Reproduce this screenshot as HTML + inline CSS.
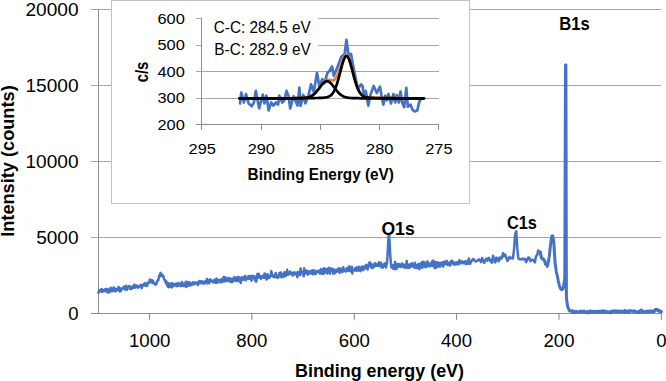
<!DOCTYPE html>
<html><head><meta charset="utf-8"><title>XPS</title>
<style>
html,body{margin:0;padding:0;background:#fff;}
body{width:666px;height:381px;overflow:hidden;font-family:"Liberation Sans",sans-serif;}
svg{display:block}
text{font-family:"Liberation Sans",sans-serif;fill:#000}
.b{font-weight:bold}
</style></head><body>
<svg width="666" height="381" viewBox="0 0 666 381">
<rect width="666" height="381" fill="#fff"/>
<!-- main gridlines -->
<g stroke="#a6a6a6" stroke-width="1" fill="none" shape-rendering="crispEdges">
<line x1="91" y1="9.5" x2="661" y2="9.5"/>
<line x1="91" y1="85.5" x2="661" y2="85.5"/>
<line x1="91" y1="161.5" x2="661" y2="161.5"/>
<line x1="91" y1="237.5" x2="661" y2="237.5"/>
</g>
<!-- main axes -->
<g stroke="#8e8e8e" stroke-width="1" fill="none" shape-rendering="crispEdges">
<line x1="98.5" y1="9" x2="98.5" y2="313.5"/>
<line x1="91" y1="313.5" x2="661.5" y2="313.5"/>
</g>
<g stroke="#8e8e8e" stroke-width="1.1" fill="none">
<line x1="149.5" y1="313" x2="149.5" y2="319.8"/>
<line x1="251.8" y1="313" x2="251.8" y2="319.8"/>
<line x1="354.3" y1="313" x2="354.3" y2="319.8"/>
<line x1="456.5" y1="313" x2="456.5" y2="319.8"/>
<line x1="559.0" y1="313" x2="559.0" y2="319.8"/>
<line x1="661.4" y1="313" x2="661.4" y2="319.8"/>
</g>
<!-- main data -->
<path d="M98.5,292.8 L99.0,290.5 L99.4,291.0 L99.9,291.4 L100.3,290.1 L100.8,290.9 L101.2,290.8 L101.7,289.0 L102.1,291.9 L102.6,291.4 L103.0,290.1 L103.5,290.5 L103.9,291.2 L104.4,290.4 L104.8,290.4 L105.3,289.1 L105.7,291.2 L106.2,290.7 L106.6,290.8 L107.1,288.9 L107.5,292.3 L108.0,290.6 L108.4,290.0 L108.9,292.6 L109.3,290.3 L109.8,288.8 L110.2,289.9 L110.7,287.8 L111.1,291.4 L111.6,289.8 L112.0,289.3 L112.5,291.2 L112.9,288.2 L113.4,290.5 L113.8,287.6 L114.3,289.1 L114.7,288.4 L115.2,291.3 L115.6,291.5 L116.1,289.2 L116.5,290.4 L117.0,289.2 L117.4,289.9 L117.9,288.4 L118.3,287.3 L118.8,287.1 L119.2,289.5 L119.7,291.5 L120.1,289.2 L120.6,288.3 L121.0,290.9 L121.5,289.0 L121.9,288.7 L122.4,288.8 L122.8,288.3 L123.3,288.1 L123.7,286.7 L124.2,288.8 L124.6,288.1 L125.1,289.5 L125.5,287.7 L126.0,285.9 L126.4,287.8 L126.9,289.8 L127.3,287.4 L127.8,286.7 L128.2,286.3 L128.7,286.4 L129.1,287.2 L129.6,286.1 L130.0,289.1 L130.5,287.0 L130.9,287.3 L131.4,288.8 L131.8,288.8 L132.3,286.8 L132.7,287.3 L133.2,287.7 L133.6,286.6 L134.1,284.7 L134.5,287.4 L135.0,287.6 L135.4,287.0 L135.9,285.4 L136.3,286.1 L136.8,285.6 L137.2,285.9 L137.7,287.6 L138.1,287.8 L138.6,286.8 L139.0,286.6 L139.5,286.6 L139.9,285.8 L140.4,285.6 L140.8,284.8 L141.3,285.5 L141.7,288.2 L142.2,286.5 L142.6,285.0 L143.1,284.8 L143.5,284.2 L144.0,285.6 L144.4,285.5 L144.9,283.2 L145.3,285.3 L145.8,283.9 L146.2,286.0 L146.7,284.2 L147.1,285.7 L147.6,282.7 L148.0,282.5 L148.5,282.8 L148.9,283.2 L149.4,282.1 L149.8,279.6 L150.3,281.0 L150.7,280.7 L151.2,280.1 L151.6,280.0 L152.1,283.1 L152.5,280.9 L153.0,280.8 L153.4,283.0 L153.9,282.9 L154.3,283.0 L154.8,284.3 L155.2,284.0 L155.7,283.9 L156.1,284.4 L156.6,283.2 L157.0,281.5 L157.5,281.1 L157.9,280.1 L158.4,280.0 L158.8,277.4 L159.3,275.4 L159.7,276.8 L160.2,274.3 L160.6,272.9 L161.1,275.5 L161.5,274.1 L162.0,275.9 L162.4,275.2 L162.9,275.3 L163.3,276.1 L163.8,278.1 L164.2,279.5 L164.7,279.8 L165.1,281.4 L165.6,280.7 L166.0,283.4 L166.5,281.7 L166.9,284.1 L167.4,285.6 L167.8,286.3 L168.3,287.3 L168.7,283.3 L169.2,286.2 L169.6,286.8 L170.1,286.5 L170.5,284.1 L171.0,285.8 L171.4,287.6 L171.9,283.3 L172.3,285.8 L172.8,286.5 L173.2,284.2 L173.7,285.8 L174.1,283.7 L174.6,284.0 L175.0,283.9 L175.5,285.2 L175.9,284.8 L176.4,286.1 L176.8,283.6 L177.3,284.6 L177.7,286.0 L178.2,285.5 L178.6,283.0 L179.1,285.5 L179.5,284.0 L180.0,285.1 L180.4,285.0 L180.9,286.2 L181.3,284.7 L181.8,282.1 L182.2,282.8 L182.7,285.5 L183.1,284.2 L183.6,286.0 L184.0,284.8 L184.5,283.5 L184.9,285.9 L185.4,283.4 L185.8,281.7 L186.3,287.1 L186.7,281.9 L187.2,285.2 L187.6,285.6 L188.1,284.6 L188.5,282.1 L189.0,285.7 L189.4,282.4 L189.9,282.5 L190.3,283.8 L190.8,285.2 L191.2,284.5 L191.7,285.0 L192.1,283.3 L192.6,283.6 L193.0,282.2 L193.5,283.2 L193.9,284.3 L194.4,283.0 L194.8,284.0 L195.3,282.5 L195.7,282.4 L196.2,283.1 L196.6,282.7 L197.1,283.7 L197.5,283.0 L198.0,285.0 L198.4,282.3 L198.9,282.2 L199.3,281.0 L199.8,282.4 L200.2,283.2 L200.7,281.2 L201.1,282.1 L201.6,283.1 L202.0,282.0 L202.5,281.4 L202.9,283.4 L203.4,282.1 L203.8,282.5 L204.3,283.5 L204.7,283.5 L205.2,281.4 L205.6,281.1 L206.1,282.2 L206.5,281.6 L207.0,279.1 L207.4,283.4 L207.9,281.6 L208.3,282.6 L208.8,279.9 L209.2,283.3 L209.7,280.6 L210.1,281.3 L210.6,279.4 L211.0,281.1 L211.5,281.0 L211.9,281.0 L212.4,281.8 L212.8,281.3 L213.3,282.5 L213.7,280.5 L214.2,279.7 L214.6,281.0 L215.1,281.9 L215.5,282.7 L216.0,282.1 L216.4,278.4 L216.9,281.4 L217.3,282.9 L217.8,280.9 L218.2,280.0 L218.7,281.1 L219.1,279.9 L219.6,281.5 L220.0,280.5 L220.5,282.5 L220.9,281.2 L221.4,279.4 L221.8,281.3 L222.3,281.7 L222.7,279.5 L223.2,279.7 L223.6,277.0 L224.1,281.5 L224.5,279.3 L225.0,277.1 L225.4,277.6 L225.9,279.7 L226.3,281.1 L226.8,279.9 L227.2,280.6 L227.7,278.3 L228.1,277.9 L228.6,281.1 L229.0,280.5 L229.5,279.7 L229.9,281.6 L230.4,278.3 L230.8,279.0 L231.3,281.1 L231.7,282.2 L232.2,279.5 L232.6,282.0 L233.1,278.6 L233.5,279.9 L234.0,279.1 L234.4,277.0 L234.9,279.7 L235.3,280.7 L235.8,279.0 L236.2,279.1 L236.7,281.2 L237.1,277.3 L237.6,276.9 L238.0,278.1 L238.5,277.2 L238.9,281.0 L239.4,279.4 L239.8,277.6 L240.3,278.0 L240.7,283.1 L241.2,277.9 L241.6,277.6 L242.1,279.2 L242.5,279.7 L243.0,279.0 L243.4,277.3 L243.9,276.8 L244.3,279.5 L244.8,278.4 L245.2,276.0 L245.7,280.2 L246.1,279.6 L246.6,278.0 L247.0,277.9 L247.5,278.7 L247.9,277.2 L248.4,276.2 L248.8,278.7 L249.3,276.0 L249.7,278.7 L250.2,275.9 L250.6,277.9 L251.1,277.8 L251.5,280.7 L252.0,276.3 L252.4,275.7 L252.9,276.9 L253.3,276.1 L253.8,276.9 L254.2,278.4 L254.7,278.9 L255.1,280.3 L255.6,276.5 L256.0,281.7 L256.5,280.7 L256.9,277.2 L257.4,274.0 L257.8,277.3 L258.3,277.6 L258.7,273.8 L259.2,277.5 L259.6,277.0 L260.1,276.1 L260.5,278.2 L261.0,278.8 L261.4,276.4 L261.9,277.5 L262.3,276.0 L262.8,275.8 L263.2,277.1 L263.7,277.8 L264.1,276.0 L264.6,273.4 L265.0,277.7 L265.5,274.2 L265.9,276.9 L266.4,279.5 L266.8,276.6 L267.3,274.7 L267.7,274.2 L268.2,278.3 L268.6,276.4 L269.1,277.3 L269.5,277.8 L270.0,276.2 L270.4,275.8 L270.9,274.7 L271.3,271.2 L271.8,273.7 L272.2,276.0 L272.7,275.8 L273.1,276.6 L273.6,275.7 L274.0,276.2 L274.5,277.1 L274.9,274.4 L275.4,275.3 L275.8,273.1 L276.3,277.2 L276.7,275.7 L277.2,276.3 L277.6,278.0 L278.1,277.2 L278.5,275.3 L279.0,276.6 L279.4,272.9 L279.9,275.9 L280.3,275.4 L280.8,272.5 L281.2,277.2 L281.7,273.9 L282.1,276.1 L282.6,274.2 L283.0,276.5 L283.5,276.9 L283.9,273.4 L284.4,272.2 L284.8,274.4 L285.3,276.0 L285.7,273.9 L286.2,273.4 L286.6,275.2 L287.1,269.8 L287.5,273.2 L288.0,272.0 L288.4,274.7 L288.9,272.9 L289.3,272.2 L289.8,273.4 L290.2,271.5 L290.7,273.9 L291.1,272.8 L291.6,273.3 L292.0,272.7 L292.5,275.4 L292.9,273.6 L293.4,274.6 L293.8,274.5 L294.3,272.3 L294.7,274.6 L295.2,274.2 L295.6,274.1 L296.1,272.9 L296.5,272.8 L297.0,274.8 L297.4,277.2 L297.9,272.0 L298.3,274.3 L298.8,272.8 L299.2,274.7 L299.7,274.1 L300.1,275.1 L300.6,268.5 L301.0,272.2 L301.5,271.5 L301.9,273.0 L302.4,271.9 L302.8,272.0 L303.3,274.2 L303.7,276.3 L304.2,268.2 L304.6,272.4 L305.1,273.4 L305.5,272.9 L306.0,272.3 L306.4,270.5 L306.9,271.2 L307.3,274.0 L307.8,274.5 L308.2,272.8 L308.7,271.2 L309.1,272.8 L309.6,272.2 L310.0,273.5 L310.5,272.7 L310.9,271.4 L311.4,272.8 L311.8,270.4 L312.3,273.8 L312.7,274.3 L313.2,270.3 L313.6,273.0 L314.1,270.5 L314.5,274.0 L315.0,273.7 L315.4,271.7 L315.9,273.8 L316.3,271.3 L316.8,270.9 L317.2,271.0 L317.7,271.7 L318.1,271.4 L318.6,272.1 L319.0,270.8 L319.5,273.1 L319.9,273.5 L320.4,270.9 L320.8,269.3 L321.3,272.9 L321.7,273.6 L322.2,271.3 L322.6,269.4 L323.1,272.0 L323.5,274.1 L324.0,268.3 L324.4,272.2 L324.9,270.9 L325.3,269.9 L325.8,272.2 L326.2,269.1 L326.7,271.8 L327.1,273.5 L327.6,271.5 L328.0,269.7 L328.5,268.1 L328.9,268.9 L329.4,267.9 L329.8,273.7 L330.3,270.6 L330.7,269.2 L331.2,268.7 L331.6,269.1 L332.1,270.3 L332.5,268.7 L333.0,273.7 L333.4,269.6 L333.9,269.5 L334.3,271.3 L334.8,273.3 L335.2,273.0 L335.7,269.9 L336.1,271.2 L336.6,270.9 L337.0,271.6 L337.5,271.1 L337.9,269.0 L338.4,268.5 L338.8,270.9 L339.3,268.5 L339.7,272.9 L340.2,270.6 L340.6,268.7 L341.1,269.9 L341.5,269.6 L342.0,270.2 L342.4,272.0 L342.9,267.9 L343.3,267.2 L343.8,270.9 L344.2,270.0 L344.7,270.6 L345.1,271.0 L345.6,269.9 L346.0,271.5 L346.5,268.5 L346.9,270.1 L347.4,268.5 L347.8,267.9 L348.3,270.9 L348.7,270.7 L349.2,266.3 L349.6,267.7 L350.1,270.0 L350.5,271.3 L351.0,268.2 L351.4,269.0 L351.9,266.8 L352.3,273.5 L352.8,269.9 L353.2,270.6 L353.7,270.1 L354.1,270.5 L354.6,269.9 L355.0,268.2 L355.5,270.0 L355.9,268.8 L356.4,270.8 L356.8,267.2 L357.3,267.5 L357.7,269.5 L358.2,270.5 L358.6,268.5 L359.1,266.9 L359.5,267.9 L360.0,267.2 L360.4,271.2 L360.9,269.3 L361.3,269.9 L361.8,268.1 L362.2,266.5 L362.7,269.4 L363.1,270.1 L363.6,268.1 L364.0,267.0 L364.5,268.8 L364.9,266.2 L365.4,268.0 L365.8,265.4 L366.3,264.8 L366.7,267.4 L367.2,266.9 L367.6,269.5 L368.1,265.6 L368.5,266.0 L369.0,263.9 L369.4,262.5 L369.9,262.6 L370.3,266.4 L370.8,263.5 L371.2,267.4 L371.7,267.8 L372.1,264.8 L372.6,268.1 L373.0,265.5 L373.5,267.0 L373.9,264.6 L374.4,266.6 L374.8,263.3 L375.3,265.9 L375.7,264.0 L376.2,264.5 L376.6,265.7 L377.1,264.8 L377.5,264.3 L378.0,265.7 L378.4,265.9 L378.9,262.2 L379.3,265.6 L379.8,265.9 L380.2,263.5 L380.7,265.6 L381.1,262.7 L381.6,267.6 L382.0,264.8 L382.5,265.2 L382.9,267.4 L383.4,265.2 L383.8,266.6 L384.3,263.8 L384.7,264.8 L385.2,263.4 L385.6,265.4 L386.1,267.4 L386.5,265.0 L387.0,263.2 L387.4,257.3 L387.9,249.1 L388.3,239.9 L388.8,234.5 L389.2,235.7 L389.7,243.2 L390.1,253.0 L390.6,259.8 L391.0,263.7 L391.5,267.5 L391.9,264.7 L392.4,266.1 L392.8,268.6 L393.3,266.0 L393.7,267.0 L394.2,264.8 L394.6,269.2 L395.1,261.9 L395.5,263.9 L396.0,264.1 L396.4,268.9 L396.9,266.7 L397.3,265.8 L397.8,264.1 L398.2,267.0 L398.7,266.7 L399.1,265.3 L399.6,264.0 L400.0,264.8 L400.5,267.0 L400.9,267.2 L401.4,266.7 L401.8,266.3 L402.3,263.5 L402.7,266.6 L403.2,264.7 L403.6,266.5 L404.1,267.2 L404.5,265.2 L405.0,264.6 L405.4,268.0 L405.9,266.9 L406.3,265.2 L406.8,261.0 L407.2,266.1 L407.7,267.3 L408.1,268.1 L408.6,264.9 L409.0,265.0 L409.5,265.3 L409.9,267.5 L410.4,263.9 L410.8,265.7 L411.3,264.3 L411.7,266.3 L412.2,263.2 L412.6,266.5 L413.1,264.9 L413.5,265.4 L414.0,266.6 L414.4,267.7 L414.9,262.7 L415.3,267.4 L415.8,266.6 L416.2,265.1 L416.7,268.0 L417.1,265.8 L417.6,267.7 L418.0,264.4 L418.5,263.9 L418.9,267.5 L419.4,269.1 L419.8,266.4 L420.3,266.8 L420.7,264.4 L421.2,262.9 L421.6,264.8 L422.1,267.8 L422.5,261.9 L423.0,264.2 L423.4,261.7 L423.9,265.2 L424.3,266.5 L424.8,262.8 L425.2,264.2 L425.7,267.2 L426.1,264.7 L426.6,262.7 L427.0,262.5 L427.5,261.3 L427.9,266.1 L428.4,263.4 L428.8,266.5 L429.3,266.2 L429.7,263.5 L430.2,263.7 L430.6,265.9 L431.1,264.8 L431.5,265.0 L432.0,261.6 L432.4,266.0 L432.9,262.9 L433.3,260.5 L433.8,263.3 L434.2,265.1 L434.7,268.0 L435.1,263.6 L435.6,262.0 L436.0,267.9 L436.5,264.5 L436.9,263.7 L437.4,262.3 L437.8,262.4 L438.3,266.7 L438.7,263.6 L439.2,263.1 L439.6,263.1 L440.1,266.7 L440.5,262.9 L441.0,265.0 L441.4,264.4 L441.9,264.3 L442.3,262.3 L442.8,265.0 L443.2,266.6 L443.7,263.7 L444.1,262.2 L444.6,261.5 L445.0,264.0 L445.5,263.2 L445.9,263.5 L446.4,263.6 L446.8,261.0 L447.3,264.9 L447.7,263.9 L448.2,263.4 L448.6,263.9 L449.1,265.1 L449.5,263.5 L450.0,261.9 L450.4,265.4 L450.9,262.6 L451.3,262.1 L451.8,260.6 L452.2,263.3 L452.7,261.4 L453.1,262.3 L453.6,264.0 L454.0,263.2 L454.5,264.9 L454.9,263.7 L455.4,262.4 L455.8,262.5 L456.3,262.2 L456.7,264.2 L457.2,263.0 L457.6,262.3 L458.1,264.4 L458.5,263.1 L459.0,262.1 L459.4,260.2 L459.9,263.6 L460.3,263.3 L460.8,262.9 L461.2,262.0 L461.7,261.3 L462.1,262.3 L462.6,263.1 L463.0,262.5 L463.5,262.4 L463.9,261.8 L464.4,263.2 L464.8,263.0 L465.3,261.2 L465.7,263.9 L466.2,263.9 L466.6,263.9 L467.1,262.2 L467.5,262.1 L468.0,260.4 L468.4,263.7 L468.9,258.6 L469.3,261.7 L469.8,261.7 L470.0,263.8 L471.1,262.1 L472.2,260.1 L473.3,259.0 L474.4,260.1 L475.5,261.5 L476.6,261.2 L477.7,260.5 L478.8,259.4 L479.9,260.1 L481.0,262.2 L482.1,258.0 L483.2,260.0 L484.3,262.8 L485.4,260.6 L486.5,258.6 L487.6,260.6 L488.7,257.9 L489.8,259.2 L490.9,262.0 L492.0,262.6 L493.1,255.7 L494.2,260.1 L495.3,262.4 L496.4,257.6 L497.5,259.0 L498.6,261.3 L499.7,257.4 L500.8,259.0 L501.9,257.7 L503.0,253.2 L504.1,256.2 L505.2,254.6 L506.3,257.6 L507.4,260.9 L508.5,258.8 L509.6,256.9 L510.7,258.4 L511.8,257.8 L512.9,258.5 L514.0,249.6 L515.1,234.6 L516.2,231.2 L517.3,248.7 L518.4,258.4 L519.5,259.3 L520.6,259.3 L521.7,259.4 L522.8,258.5 L523.9,259.4 L525.0,258.9 L526.1,262.2 L527.2,260.0 L528.3,257.6 L529.4,257.8 L530.5,261.1 L531.6,259.9 L532.7,259.7 L533.8,260.7 L534.9,262.4 L536.0,256.3 L537.1,255.2 L538.2,250.5 L539.3,252.9 L540.4,252.1 L541.3,257.8 L541.8,258.0" fill="none" stroke="#4472c4" stroke-width="2.5" stroke-linejoin="round" stroke-linecap="round"/>
<path d="M540.4,252.1 L541.3,257.8 L541.8,258.0 L542.3,258.9 L542.8,258.8 L543.3,258.8 L543.8,260.2 L544.3,260.1 L544.8,261.0 L545.3,263.9 L545.8,263.4 L546.3,264.3 L546.8,265.2 L547.3,266.4 L547.8,264.4 L548.3,261.9 L548.8,259.3 L549.3,256.4 L549.8,251.3 L550.3,247.1 L550.8,242.8 L551.3,239.4 L551.8,236.1 L552.3,235.8 L552.8,236.0 L553.3,238.8 L553.8,242.0 L554.3,250.3 L554.8,258.4 L555.3,265.1 L555.8,268.2 L556.3,271.5 L556.8,273.9 L557.3,275.8 L557.8,278.3 L558.3,281.1 L558.8,283.1 L559.3,285.1 L559.8,286.7 L560.3,288.1 L560.8,289.0 L561.3,289.5 L561.8,289.6 L562.3,288.6 L562.8,289.2 L563.4,287.5 L564.8,278.0 L565.5,65.0 L565.9,65.0 L566.4,298.0 L567.6,306.5 L568.6,308.6 L569.0,309.9 L569.5,310.8 L569.9,311.1 L570.4,311.1 L570.8,311.2 L571.3,311.1 L571.7,310.5 L572.2,311.5 L572.6,312.5 L573.1,311.3 L573.5,311.3 L574.0,312.1 L574.4,311.7 L574.9,311.4 L575.3,312.4 L575.8,312.0 L576.2,312.0 L576.7,311.4 L577.1,311.9 L577.6,311.9 L578.0,312.1 L578.5,312.3 L578.9,312.2 L579.4,311.8 L579.8,312.0 L580.3,311.1 L580.7,312.0 L581.2,312.0 L581.6,311.5 L582.1,311.3 L582.5,311.7 L583.0,311.1 L583.4,311.9 L583.9,311.8 L584.3,311.2 L584.8,311.7 L585.2,312.2 L585.7,312.2 L586.1,312.2 L586.6,311.6 L587.0,311.5 L587.5,311.5 L587.9,312.0 L588.4,312.9 L588.8,312.4 L589.3,312.5 L589.7,312.4 L590.2,310.9 L590.6,311.6 L591.1,311.5 L591.5,312.3 L592.0,312.5 L592.4,311.4 L592.9,311.7 L593.3,312.0 L593.8,311.5 L594.2,311.4 L594.7,311.4 L595.1,312.1 L595.6,311.2 L596.0,312.3 L596.5,311.7 L596.9,312.1 L597.4,312.5 L597.8,311.4 L598.3,311.3 L598.7,311.9 L599.2,311.2 L599.6,311.3 L600.1,311.6 L600.5,311.8 L601.0,311.1 L601.4,311.5 L601.9,312.0 L602.3,312.4 L602.8,310.7 L603.2,312.3 L603.7,312.1 L604.1,311.1 L604.6,311.0 L605.0,311.9 L605.5,311.5 L605.9,311.8 L606.4,312.1 L606.8,311.5 L607.3,311.8 L607.7,311.9 L608.2,312.1 L608.6,312.6 L609.1,312.5 L609.5,311.8 L610.0,311.6 L610.4,312.9 L610.9,312.0 L611.3,311.9 L611.8,311.1 L612.2,312.1 L612.7,311.3 L613.1,311.4 L613.6,311.0 L614.0,311.4 L614.5,311.7 L614.9,310.9 L615.4,311.2 L615.8,311.6 L616.3,311.0 L616.7,311.0 L617.2,311.2 L617.6,311.0 L618.1,312.0 L618.5,311.2 L619.0,312.0 L619.4,312.1 L619.9,311.1 L620.3,311.7 L620.8,311.4 L621.2,311.1 L621.7,311.5 L622.1,311.5 L622.6,312.0 L623.0,312.2 L623.5,311.1 L623.9,311.4 L624.4,311.9 L624.8,312.2 L625.3,310.4 L625.7,312.3 L626.2,311.6 L626.6,312.4 L627.1,311.4 L627.5,311.2 L628.0,311.7 L628.4,312.2 L628.9,311.6 L629.3,310.5 L629.8,312.0 L630.2,310.8 L630.7,311.1 L631.1,311.0 L631.6,310.7 L632.0,311.0 L632.5,311.1 L632.9,311.3 L633.4,311.6 L633.8,311.4 L634.3,310.9 L634.7,311.5 L635.2,312.1 L635.6,312.1 L636.1,311.7 L636.5,311.9 L637.0,312.1 L637.4,312.3 L637.9,312.5 L638.3,311.4 L638.8,311.5 L639.2,312.3 L639.7,312.4 L640.1,312.4 L640.6,310.4 L641.0,311.5 L641.5,310.0 L641.9,311.9 L642.4,311.6 L642.8,311.6 L643.3,311.5 L643.7,312.2 L644.2,311.4 L644.6,312.1 L645.1,311.8 L645.5,311.7 L646.0,311.8 L646.4,311.6 L646.9,311.0 L647.3,311.9 L647.8,311.9 L648.2,311.5 L648.7,311.9 L649.1,312.0 L649.6,310.9 L650.0,311.4 L650.5,311.3 L650.9,311.1 L651.4,311.7 L651.8,311.1 L652.3,311.2 L652.7,311.4 L653.2,311.3 L653.6,311.1 L654.1,311.9 L654.5,310.3 L655.0,310.5 L655.4,309.5 L655.9,310.0 L656.3,310.1 L656.8,310.1 L657.2,309.4 L657.7,309.8 L658.1,310.8 L658.6,310.3 L659.0,311.1 L659.5,310.4 L659.9,311.8 L660.4,311.9 L660.8,311.9 L661.3,311.6" fill="none" stroke="#4472c4" stroke-width="3" stroke-linejoin="round" stroke-linecap="round"/>
<!-- y tick labels -->
<g font-size="18" text-anchor="end">
<text x="78.5" y="16" textLength="53" lengthAdjust="spacingAndGlyphs">20000</text>
<text x="78.5" y="91.5" textLength="53" lengthAdjust="spacingAndGlyphs">15000</text>
<text x="78.5" y="167.5" textLength="53" lengthAdjust="spacingAndGlyphs">10000</text>
<text x="78.5" y="243.5" textLength="42.3" lengthAdjust="spacingAndGlyphs">5000</text>
<text x="78.5" y="319.5" textLength="10.3" lengthAdjust="spacingAndGlyphs">0</text>
</g>
<!-- x tick labels -->
<g font-size="18" text-anchor="middle">
<text x="149.7" y="347" textLength="41.5" lengthAdjust="spacingAndGlyphs">1000</text>
<text x="251.8" y="347" textLength="31" lengthAdjust="spacingAndGlyphs">800</text>
<text x="354.3" y="347" textLength="31" lengthAdjust="spacingAndGlyphs">600</text>
<text x="456.5" y="347" textLength="31" lengthAdjust="spacingAndGlyphs">400</text>
<text x="559" y="347" textLength="31" lengthAdjust="spacingAndGlyphs">200</text>
<text x="661.4" y="347" textLength="10.3" lengthAdjust="spacingAndGlyphs">0</text>
</g>
<!-- axis titles -->
<text class="b" font-size="18" x="295" y="376.8" textLength="169" lengthAdjust="spacingAndGlyphs">Binding energy (eV)</text>
<text class="b" font-size="18" transform="translate(14.3,236.8) rotate(-90)" textLength="151.5" lengthAdjust="spacingAndGlyphs">Intensity (counts)</text>
<!-- peak labels -->
<text class="b" font-size="18" x="559.3" y="30" textLength="30.5" lengthAdjust="spacingAndGlyphs">B1s</text>
<text class="b" font-size="18" x="381.4" y="235.2" textLength="33.3" lengthAdjust="spacingAndGlyphs">O1s</text>
<text class="b" font-size="18" x="507" y="229.2" textLength="29.8" lengthAdjust="spacingAndGlyphs">C1s</text>

<!-- inset -->
<rect x="111.5" y="0" width="358" height="203.5" fill="#fff" stroke="#c2c2c2" stroke-width="1" shape-rendering="crispEdges"/>
<g stroke="#a6a6a6" stroke-width="1" fill="none" shape-rendering="crispEdges">
<line x1="196" y1="18.5" x2="439" y2="18.5"/>
<line x1="196" y1="45.5" x2="439" y2="45.5"/>
<line x1="196" y1="71.5" x2="439" y2="71.5"/>
<line x1="196" y1="98.5" x2="439" y2="98.5"/>
</g>
<g stroke="#8e8e8e" stroke-width="1" fill="none" shape-rendering="crispEdges">
<line x1="201.5" y1="18" x2="201.5" y2="130"/>
<line x1="196" y1="124.5" x2="439" y2="124.5"/>
<line x1="261.5" y1="124" x2="261.5" y2="130"/>
<line x1="320.5" y1="124" x2="320.5" y2="130"/>
<line x1="379.5" y1="124" x2="379.5" y2="130"/>
<line x1="438.5" y1="124" x2="438.5" y2="130"/>
</g>
<path d="M240.0,103.5 L241.3,92.5 L243.9,102.5 L246.0,94.1 L248.6,103.5 L251.8,106.2 L253.9,102.5 L255.8,90.9 L259.1,108.3 L262.8,94.6 L264.4,103.5 L266.5,95.7 L268.6,110.4 L271.2,102.5 L273.3,105.6 L276.0,102.5 L278.1,104.6 L279.3,95.7 L282.3,102.5 L284.4,100.4 L286.5,90.9 L288.6,96.2 L290.2,108.3 L293.6,96.2 L297.5,105.6 L299.4,87.6 L300.6,106.0 L303.3,94.9 L305.4,103.3 L308.6,94.9 L311.1,84.4 L313.8,91.7 L317.0,72.8 L319.5,87.5 L322.2,79.1 L324.3,83.3 L327.5,72.8 L329.6,70.7 L332.1,66.5 L333.8,76.0 L336.9,68.6 L341.1,57.1 L344.7,53.9 L346.4,39.9 L348.5,55.0 L351.0,53.9 L352.7,63.4 L355.8,79.1 L357.9,88.6 L361.1,84.4 L362.6,86.2 L363.8,94.9 L365.8,91.0 L368.3,105.6 L370.5,94.6 L373.7,86.0 L376.8,93.0 L380.0,86.7 L381.6,96.2 L383.3,104.6 L385.2,95.7 L386.8,100.4 L388.4,94.1 L391.0,103.5 L393.4,94.1 L395.2,102.5 L396.8,95.1 L398.7,102.5 L400.5,91.5 L402.1,102.5 L404.2,107.2 L406.3,87.8 L407.8,106.7 L410.5,104.6 L412.6,109.9 L414.7,111.4 L417.3,110.4 L419.4,101.4 L420.5,99.9" fill="none" stroke="#4472c4" stroke-width="2.7" stroke-linejoin="round" stroke-linecap="round"/>
<path d="M239.5,98.3 L240.0,98.3 L240.5,98.3 L241.0,98.3 L241.5,98.3 L242.0,98.3 L242.5,98.3 L243.0,98.3 L243.5,98.3 L244.0,98.3 L244.5,98.3 L245.0,98.3 L245.5,98.3 L246.0,98.3 L246.5,98.3 L247.0,98.3 L247.5,98.3 L248.0,98.3 L248.5,98.3 L249.0,98.3 L249.5,98.3 L250.0,98.3 L250.5,98.3 L251.0,98.3 L251.5,98.3 L252.0,98.3 L252.5,98.3 L253.0,98.3 L253.5,98.3 L254.0,98.3 L254.5,98.3 L255.0,98.3 L255.5,98.3 L256.0,98.3 L256.5,98.3 L257.0,98.3 L257.5,98.3 L258.0,98.3 L258.5,98.3 L259.0,98.3 L259.5,98.3 L260.0,98.3 L260.5,98.3 L261.0,98.3 L261.5,98.3 L262.0,98.3 L262.5,98.3 L263.0,98.3 L263.5,98.3 L264.0,98.3 L264.5,98.3 L265.0,98.3 L265.5,98.3 L266.0,98.3 L266.5,98.3 L267.0,98.3 L267.5,98.3 L268.0,98.3 L268.5,98.3 L269.0,98.3 L269.5,98.3 L270.0,98.3 L270.5,98.3 L271.0,98.3 L271.5,98.3 L272.0,98.3 L272.5,98.3 L273.0,98.3 L273.5,98.3 L274.0,98.3 L274.5,98.3 L275.0,98.3 L275.5,98.3 L276.0,98.3 L276.5,98.3 L277.0,98.3 L277.5,98.3 L278.0,98.3 L278.5,98.3 L279.0,98.3 L279.5,98.2 L280.0,98.2 L280.5,98.2 L281.0,98.2 L281.5,98.2 L282.0,98.2 L282.5,98.2 L283.0,98.2 L283.5,98.2 L284.0,98.2 L284.5,98.2 L285.0,98.2 L285.5,98.2 L286.0,98.2 L286.5,98.2 L287.0,98.2 L287.5,98.2 L288.0,98.2 L288.5,98.2 L289.0,98.2 L289.5,98.2 L290.0,98.2 L290.5,98.2 L291.0,98.2 L291.5,98.2 L292.0,98.2 L292.5,98.1 L293.0,98.1 L293.5,98.1 L294.0,98.1 L294.5,98.1 L295.0,98.1 L295.5,98.1 L296.0,98.1 L296.5,98.1 L297.0,98.1 L297.5,98.1 L298.0,98.1 L298.5,98.0 L299.0,98.0 L299.5,98.0 L300.0,98.0 L300.5,98.0 L301.0,98.0 L301.5,97.9 L302.0,97.9 L302.5,97.9 L303.0,97.8 L303.5,97.8 L304.0,97.8 L304.5,97.7 L305.0,97.7 L305.5,97.6 L306.0,97.5 L306.5,97.4 L307.0,97.3 L307.5,97.2 L308.0,97.1 L308.5,97.0 L309.0,96.8 L309.5,96.6 L310.0,96.4 L310.5,96.2 L311.0,95.9 L311.5,95.7 L312.0,95.4 L312.5,95.0 L313.0,94.7 L313.5,94.3 L314.0,93.8 L314.5,93.4 L315.0,92.9 L315.5,92.4 L316.0,91.8 L316.5,91.2 L317.0,90.6 L317.5,90.0 L318.0,89.4 L318.5,88.7 L319.0,88.0 L319.5,87.4 L320.0,86.7 L320.5,86.0 L321.0,85.3 L321.5,84.7 L322.0,84.0 L322.5,83.4 L323.0,82.8 L323.5,82.3 L324.0,81.8 L324.5,81.3 L325.0,81.0 L325.5,80.6 L326.0,80.4 L326.5,80.1 L327.0,80.0 L327.5,79.9 L328.0,79.8 L328.5,79.8 L329.0,79.9 L329.5,80.0 L330.0,80.0 L330.5,80.1 L331.0,80.2 L331.5,80.3 L332.0,80.3 L332.5,80.3 L333.0,80.3 L333.5,80.1 L334.0,79.9 L334.5,79.6 L335.0,79.2 L335.5,78.7 L336.0,78.0 L336.5,77.2 L337.0,76.4 L337.5,75.4 L338.0,74.2 L338.5,73.0 L339.0,71.7 L339.5,70.3 L340.0,68.8 L340.5,67.3 L341.0,65.7 L341.5,64.2 L342.0,62.7 L342.5,61.2 L343.0,59.9 L343.5,58.6 L344.0,57.5 L344.5,56.6 L345.0,55.8 L345.5,55.3 L346.0,55.1 L346.5,55.1 L347.0,55.3 L347.5,55.8 L348.0,56.5 L348.5,57.5 L349.0,58.7 L349.5,60.1 L350.0,61.6 L350.5,63.3 L351.0,65.1 L351.5,66.9 L352.0,68.8 L352.5,70.8 L353.0,72.8 L353.5,74.7 L354.0,76.6 L354.5,78.4 L355.0,80.2 L355.5,81.9 L356.0,83.5 L356.5,85.0 L357.0,86.4 L357.5,87.7 L358.0,88.9 L358.5,90.0 L359.0,91.0 L359.5,91.9 L360.0,92.7 L360.5,93.4 L361.0,94.0 L361.5,94.5 L362.0,95.0 L362.5,95.4 L363.0,95.8 L363.5,96.1 L364.0,96.4 L364.5,96.6 L365.0,96.8 L365.5,96.9 L366.0,97.1 L366.5,97.2 L367.0,97.3 L367.5,97.4 L368.0,97.5 L368.5,97.5 L369.0,97.6 L369.5,97.6 L370.0,97.7 L370.5,97.7 L371.0,97.7 L371.5,97.8 L372.0,97.8 L372.5,97.8 L373.0,97.8 L373.5,97.9 L374.0,97.9 L374.5,97.9 L375.0,97.9 L375.5,97.9 L376.0,97.9 L376.5,97.9 L377.0,98.0 L377.5,98.0 L378.0,98.0 L378.5,98.0 L379.0,98.0 L379.5,98.0 L380.0,98.0 L380.5,98.0 L381.0,98.0 L381.5,98.1 L382.0,98.1 L382.5,98.1 L383.0,98.1 L383.5,98.1 L384.0,98.1 L384.5,98.1 L385.0,98.1 L385.5,98.1 L386.0,98.1 L386.5,98.1 L387.0,98.1 L387.5,98.1 L388.0,98.1 L388.5,98.2 L389.0,98.2 L389.5,98.2 L390.0,98.2 L390.5,98.2 L391.0,98.2 L391.5,98.2 L392.0,98.2 L392.5,98.2 L393.0,98.2 L393.5,98.2 L394.0,98.2 L394.5,98.2 L395.0,98.2 L395.5,98.2 L396.0,98.2 L396.5,98.2 L397.0,98.2 L397.5,98.2 L398.0,98.2 L398.5,98.2 L399.0,98.2 L399.5,98.2 L400.0,98.2 L400.5,98.2 L401.0,98.2 L401.5,98.3 L402.0,98.3 L402.5,98.3 L403.0,98.3 L403.5,98.3 L404.0,98.3 L404.5,98.3 L405.0,98.3 L405.5,98.3 L406.0,98.3 L406.5,98.3 L407.0,98.3 L407.5,98.3 L408.0,98.3 L408.5,98.3 L409.0,98.3 L409.5,98.3 L410.0,98.3 L410.5,98.3 L411.0,98.3 L411.5,98.3 L412.0,98.3 L412.5,98.3 L413.0,98.3 L413.5,98.3 L414.0,98.3 L414.5,98.3 L415.0,98.3 L415.5,98.3 L416.0,98.3 L416.5,98.3 L417.0,98.3 L417.5,98.3 L418.0,98.3 L418.5,98.3 L419.0,98.3 L419.5,98.3 L420.0,98.3 L420.5,98.3 L421.0,98.3 L421.5,98.3 L422.0,98.3 L422.5,98.3 L423.0,98.3 L423.5,98.3 L424.0,98.3" fill="none" stroke="#ed7d31" stroke-width="2.8" stroke-linejoin="round"/>
<path d="M239.5,98.4 L240.0,98.4 L240.5,98.4 L241.0,98.4 L241.5,98.4 L242.0,98.4 L242.5,98.4 L243.0,98.4 L243.5,98.4 L244.0,98.4 L244.5,98.4 L245.0,98.4 L245.5,98.4 L246.0,98.4 L246.5,98.4 L247.0,98.4 L247.5,98.4 L248.0,98.4 L248.5,98.4 L249.0,98.4 L249.5,98.4 L250.0,98.4 L250.5,98.4 L251.0,98.4 L251.5,98.4 L252.0,98.4 L252.5,98.4 L253.0,98.4 L253.5,98.4 L254.0,98.4 L254.5,98.4 L255.0,98.4 L255.5,98.4 L256.0,98.4 L256.5,98.4 L257.0,98.4 L257.5,98.4 L258.0,98.4 L258.5,98.4 L259.0,98.4 L259.5,98.4 L260.0,98.4 L260.5,98.4 L261.0,98.4 L261.5,98.4 L262.0,98.4 L262.5,98.4 L263.0,98.4 L263.5,98.4 L264.0,98.4 L264.5,98.4 L265.0,98.4 L265.5,98.4 L266.0,98.4 L266.5,98.4 L267.0,98.4 L267.5,98.4 L268.0,98.4 L268.5,98.4 L269.0,98.4 L269.5,98.4 L270.0,98.3 L270.5,98.3 L271.0,98.3 L271.5,98.3 L272.0,98.3 L272.5,98.3 L273.0,98.3 L273.5,98.3 L274.0,98.3 L274.5,98.3 L275.0,98.3 L275.5,98.3 L276.0,98.3 L276.5,98.3 L277.0,98.3 L277.5,98.3 L278.0,98.3 L278.5,98.3 L279.0,98.3 L279.5,98.3 L280.0,98.3 L280.5,98.3 L281.0,98.3 L281.5,98.3 L282.0,98.3 L282.5,98.3 L283.0,98.3 L283.5,98.3 L284.0,98.3 L284.5,98.3 L285.0,98.3 L285.5,98.3 L286.0,98.3 L286.5,98.3 L287.0,98.3 L287.5,98.3 L288.0,98.3 L288.5,98.3 L289.0,98.3 L289.5,98.3 L290.0,98.3 L290.5,98.3 L291.0,98.3 L291.5,98.3 L292.0,98.3 L292.5,98.3 L293.0,98.3 L293.5,98.3 L294.0,98.3 L294.5,98.3 L295.0,98.2 L295.5,98.2 L296.0,98.2 L296.5,98.2 L297.0,98.2 L297.5,98.2 L298.0,98.2 L298.5,98.2 L299.0,98.2 L299.5,98.2 L300.0,98.2 L300.5,98.1 L301.0,98.1 L301.5,98.1 L302.0,98.1 L302.5,98.1 L303.0,98.0 L303.5,98.0 L304.0,98.0 L304.5,97.9 L305.0,97.9 L305.5,97.8 L306.0,97.7 L306.5,97.7 L307.0,97.6 L307.5,97.5 L308.0,97.3 L308.5,97.2 L309.0,97.0 L309.5,96.9 L310.0,96.7 L310.5,96.5 L311.0,96.2 L311.5,95.9 L312.0,95.6 L312.5,95.3 L313.0,95.0 L313.5,94.6 L314.0,94.2 L314.5,93.7 L315.0,93.2 L315.5,92.7 L316.0,92.2 L316.5,91.6 L317.0,91.0 L317.5,90.4 L318.0,89.8 L318.5,89.2 L319.0,88.5 L319.5,87.8 L320.0,87.2 L320.5,86.5 L321.0,85.8 L321.5,85.2 L322.0,84.6 L322.5,84.0 L323.0,83.5 L323.5,83.0 L324.0,82.5 L324.5,82.1 L325.0,81.8 L325.5,81.5 L326.0,81.4 L326.5,81.2 L327.0,81.2 L327.5,81.2 L328.0,81.4 L328.5,81.5 L329.0,81.8 L329.5,82.1 L330.0,82.5 L330.5,83.0 L331.0,83.5 L331.5,84.0 L332.0,84.6 L332.5,85.2 L333.0,85.8 L333.5,86.5 L334.0,87.2 L334.5,87.8 L335.0,88.5 L335.5,89.2 L336.0,89.8 L336.5,90.4 L337.0,91.0 L337.5,91.6 L338.0,92.2 L338.5,92.7 L339.0,93.2 L339.5,93.7 L340.0,94.2 L340.5,94.6 L341.0,95.0 L341.5,95.3 L342.0,95.6 L342.5,95.9 L343.0,96.2 L343.5,96.5 L344.0,96.7 L344.5,96.9 L345.0,97.0 L345.5,97.2 L346.0,97.3 L346.5,97.5 L347.0,97.6 L347.5,97.7 L348.0,97.7 L348.5,97.8 L349.0,97.9 L349.5,97.9 L350.0,98.0 L350.5,98.0 L351.0,98.0 L351.5,98.1 L352.0,98.1 L352.5,98.1 L353.0,98.1 L353.5,98.1 L354.0,98.2 L354.5,98.2 L355.0,98.2 L355.5,98.2 L356.0,98.2 L356.5,98.2 L357.0,98.2 L357.5,98.2 L358.0,98.2 L358.5,98.2 L359.0,98.2 L359.5,98.3 L360.0,98.3 L360.5,98.3 L361.0,98.3 L361.5,98.3 L362.0,98.3 L362.5,98.3 L363.0,98.3 L363.5,98.3 L364.0,98.3 L364.5,98.3 L365.0,98.3 L365.5,98.3 L366.0,98.3 L366.5,98.3 L367.0,98.3 L367.5,98.3 L368.0,98.3 L368.5,98.3 L369.0,98.3 L369.5,98.3 L370.0,98.3 L370.5,98.3 L371.0,98.3 L371.5,98.3 L372.0,98.3 L372.5,98.3 L373.0,98.3 L373.5,98.3 L374.0,98.3 L374.5,98.3 L375.0,98.3 L375.5,98.3 L376.0,98.3 L376.5,98.3 L377.0,98.3 L377.5,98.3 L378.0,98.3 L378.5,98.3 L379.0,98.3 L379.5,98.3 L380.0,98.3 L380.5,98.3 L381.0,98.3 L381.5,98.3 L382.0,98.3 L382.5,98.3 L383.0,98.3 L383.5,98.3 L384.0,98.3 L384.5,98.4 L385.0,98.4 L385.5,98.4 L386.0,98.4 L386.5,98.4 L387.0,98.4 L387.5,98.4 L388.0,98.4 L388.5,98.4 L389.0,98.4 L389.5,98.4 L390.0,98.4 L390.5,98.4 L391.0,98.4 L391.5,98.4 L392.0,98.4 L392.5,98.4 L393.0,98.4 L393.5,98.4 L394.0,98.4 L394.5,98.4 L395.0,98.4 L395.5,98.4 L396.0,98.4 L396.5,98.4 L397.0,98.4 L397.5,98.4 L398.0,98.4 L398.5,98.4 L399.0,98.4 L399.5,98.4 L400.0,98.4 L400.5,98.4 L401.0,98.4 L401.5,98.4 L402.0,98.4 L402.5,98.4 L403.0,98.4 L403.5,98.4 L404.0,98.4 L404.5,98.4 L405.0,98.4 L405.5,98.4 L406.0,98.4 L406.5,98.4 L407.0,98.4 L407.5,98.4 L408.0,98.4 L408.5,98.4 L409.0,98.4 L409.5,98.4 L410.0,98.4 L410.5,98.4 L411.0,98.4 L411.5,98.4 L412.0,98.4 L412.5,98.4 L413.0,98.4 L413.5,98.4 L414.0,98.4 L414.5,98.4 L415.0,98.4 L415.5,98.4 L416.0,98.4 L416.5,98.4 L417.0,98.4 L417.5,98.4 L418.0,98.4 L418.5,98.4 L419.0,98.4 L419.5,98.4 L420.0,98.4 L420.5,98.4 L421.0,98.4 L421.5,98.4 L422.0,98.4 L422.5,98.4 L423.0,98.4 L423.5,98.4 L424.0,98.4" fill="none" stroke="#000" stroke-width="2.7" stroke-linejoin="round" stroke-linecap="round"/>
<path d="M239.5,98.4 L240.0,98.4 L240.5,98.4 L241.0,98.4 L241.5,98.4 L242.0,98.4 L242.5,98.4 L243.0,98.4 L243.5,98.4 L244.0,98.4 L244.5,98.4 L245.0,98.4 L245.5,98.4 L246.0,98.4 L246.5,98.4 L247.0,98.4 L247.5,98.4 L248.0,98.4 L248.5,98.4 L249.0,98.4 L249.5,98.4 L250.0,98.4 L250.5,98.4 L251.0,98.4 L251.5,98.4 L252.0,98.4 L252.5,98.4 L253.0,98.4 L253.5,98.4 L254.0,98.4 L254.5,98.4 L255.0,98.4 L255.5,98.4 L256.0,98.4 L256.5,98.4 L257.0,98.4 L257.5,98.4 L258.0,98.4 L258.5,98.4 L259.0,98.4 L259.5,98.4 L260.0,98.4 L260.5,98.4 L261.0,98.4 L261.5,98.3 L262.0,98.3 L262.5,98.3 L263.0,98.3 L263.5,98.3 L264.0,98.3 L264.5,98.3 L265.0,98.3 L265.5,98.3 L266.0,98.3 L266.5,98.3 L267.0,98.3 L267.5,98.3 L268.0,98.3 L268.5,98.3 L269.0,98.3 L269.5,98.3 L270.0,98.3 L270.5,98.3 L271.0,98.3 L271.5,98.3 L272.0,98.3 L272.5,98.3 L273.0,98.3 L273.5,98.3 L274.0,98.3 L274.5,98.3 L275.0,98.3 L275.5,98.3 L276.0,98.3 L276.5,98.3 L277.0,98.3 L277.5,98.3 L278.0,98.3 L278.5,98.3 L279.0,98.3 L279.5,98.3 L280.0,98.3 L280.5,98.3 L281.0,98.3 L281.5,98.3 L282.0,98.3 L282.5,98.3 L283.0,98.3 L283.5,98.3 L284.0,98.3 L284.5,98.3 L285.0,98.3 L285.5,98.3 L286.0,98.3 L286.5,98.3 L287.0,98.3 L287.5,98.3 L288.0,98.3 L288.5,98.3 L289.0,98.3 L289.5,98.3 L290.0,98.3 L290.5,98.3 L291.0,98.3 L291.5,98.3 L292.0,98.3 L292.5,98.3 L293.0,98.3 L293.5,98.3 L294.0,98.3 L294.5,98.3 L295.0,98.3 L295.5,98.3 L296.0,98.3 L296.5,98.3 L297.0,98.3 L297.5,98.3 L298.0,98.2 L298.5,98.2 L299.0,98.2 L299.5,98.2 L300.0,98.2 L300.5,98.2 L301.0,98.2 L301.5,98.2 L302.0,98.2 L302.5,98.2 L303.0,98.2 L303.5,98.2 L304.0,98.2 L304.5,98.2 L305.0,98.2 L305.5,98.2 L306.0,98.2 L306.5,98.2 L307.0,98.2 L307.5,98.2 L308.0,98.2 L308.5,98.2 L309.0,98.1 L309.5,98.1 L310.0,98.1 L310.5,98.1 L311.0,98.1 L311.5,98.1 L312.0,98.1 L312.5,98.1 L313.0,98.1 L313.5,98.1 L314.0,98.1 L314.5,98.1 L315.0,98.0 L315.5,98.0 L316.0,98.0 L316.5,98.0 L317.0,98.0 L317.5,98.0 L318.0,98.0 L318.5,98.0 L319.0,97.9 L319.5,97.9 L320.0,97.9 L320.5,97.9 L321.0,97.9 L321.5,97.8 L322.0,97.8 L322.5,97.8 L323.0,97.8 L323.5,97.7 L324.0,97.7 L324.5,97.6 L325.0,97.6 L325.5,97.5 L326.0,97.4 L326.5,97.3 L327.0,97.2 L327.5,97.0 L328.0,96.9 L328.5,96.7 L329.0,96.5 L329.5,96.2 L330.0,95.9 L330.5,95.6 L331.0,95.2 L331.5,94.7 L332.0,94.1 L332.5,93.5 L333.0,92.8 L333.5,92.0 L334.0,91.2 L334.5,90.2 L335.0,89.1 L335.5,87.9 L336.0,86.6 L336.5,85.2 L337.0,83.7 L337.5,82.1 L338.0,80.4 L338.5,78.7 L339.0,76.8 L339.5,74.9 L340.0,73.0 L340.5,71.1 L341.0,69.2 L341.5,67.3 L342.0,65.4 L342.5,63.7 L343.0,62.0 L343.5,60.5 L344.0,59.2 L344.5,58.1 L345.0,57.2 L345.5,56.5 L346.0,56.1 L346.5,56.0 L347.0,56.1 L347.5,56.5 L348.0,57.2 L348.5,58.1 L349.0,59.2 L349.5,60.5 L350.0,62.0 L350.5,63.7 L351.0,65.4 L351.5,67.3 L352.0,69.2 L352.5,71.1 L353.0,73.0 L353.5,74.9 L354.0,76.8 L354.5,78.7 L355.0,80.4 L355.5,82.1 L356.0,83.7 L356.5,85.2 L357.0,86.6 L357.5,87.9 L358.0,89.1 L358.5,90.2 L359.0,91.2 L359.5,92.0 L360.0,92.8 L360.5,93.5 L361.0,94.1 L361.5,94.7 L362.0,95.2 L362.5,95.6 L363.0,95.9 L363.5,96.2 L364.0,96.5 L364.5,96.7 L365.0,96.9 L365.5,97.0 L366.0,97.2 L366.5,97.3 L367.0,97.4 L367.5,97.5 L368.0,97.6 L368.5,97.6 L369.0,97.7 L369.5,97.7 L370.0,97.8 L370.5,97.8 L371.0,97.8 L371.5,97.8 L372.0,97.9 L372.5,97.9 L373.0,97.9 L373.5,97.9 L374.0,97.9 L374.5,98.0 L375.0,98.0 L375.5,98.0 L376.0,98.0 L376.5,98.0 L377.0,98.0 L377.5,98.0 L378.0,98.0 L378.5,98.1 L379.0,98.1 L379.5,98.1 L380.0,98.1 L380.5,98.1 L381.0,98.1 L381.5,98.1 L382.0,98.1 L382.5,98.1 L383.0,98.1 L383.5,98.1 L384.0,98.1 L384.5,98.2 L385.0,98.2 L385.5,98.2 L386.0,98.2 L386.5,98.2 L387.0,98.2 L387.5,98.2 L388.0,98.2 L388.5,98.2 L389.0,98.2 L389.5,98.2 L390.0,98.2 L390.5,98.2 L391.0,98.2 L391.5,98.2 L392.0,98.2 L392.5,98.2 L393.0,98.2 L393.5,98.2 L394.0,98.2 L394.5,98.2 L395.0,98.2 L395.5,98.3 L396.0,98.3 L396.5,98.3 L397.0,98.3 L397.5,98.3 L398.0,98.3 L398.5,98.3 L399.0,98.3 L399.5,98.3 L400.0,98.3 L400.5,98.3 L401.0,98.3 L401.5,98.3 L402.0,98.3 L402.5,98.3 L403.0,98.3 L403.5,98.3 L404.0,98.3 L404.5,98.3 L405.0,98.3 L405.5,98.3 L406.0,98.3 L406.5,98.3 L407.0,98.3 L407.5,98.3 L408.0,98.3 L408.5,98.3 L409.0,98.3 L409.5,98.3 L410.0,98.3 L410.5,98.3 L411.0,98.3 L411.5,98.3 L412.0,98.3 L412.5,98.3 L413.0,98.3 L413.5,98.3 L414.0,98.3 L414.5,98.3 L415.0,98.3 L415.5,98.3 L416.0,98.3 L416.5,98.3 L417.0,98.3 L417.5,98.3 L418.0,98.3 L418.5,98.3 L419.0,98.3 L419.5,98.3 L420.0,98.3 L420.5,98.3 L421.0,98.3 L421.5,98.3 L422.0,98.3 L422.5,98.3 L423.0,98.3 L423.5,98.3 L424.0,98.3" fill="none" stroke="#000" stroke-width="2.7" stroke-linejoin="round" stroke-linecap="round"/>
<!-- text box -->
<rect x="202" y="12" width="116.5" height="50" fill="#fff"/>
<g font-size="16">
<text x="213.8" y="32.8" textLength="97" lengthAdjust="spacingAndGlyphs">C-C: 284.5 eV</text>
<text x="214.3" y="54.6" textLength="96.5" lengthAdjust="spacingAndGlyphs">B-C: 282.9 eV</text>
</g>
<!-- inset tick labels -->
<g font-size="15.1" text-anchor="end">
<text x="184.8" y="23.8" textLength="27.3" lengthAdjust="spacingAndGlyphs">600</text>
<text x="184.8" y="50.4" textLength="27.3" lengthAdjust="spacingAndGlyphs">500</text>
<text x="184.8" y="76.9" textLength="27.3" lengthAdjust="spacingAndGlyphs">400</text>
<text x="184.8" y="103.3" textLength="27.3" lengthAdjust="spacingAndGlyphs">300</text>
<text x="184.8" y="129.8" textLength="27.3" lengthAdjust="spacingAndGlyphs">200</text>
</g>
<g font-size="15.1" text-anchor="middle">
<text x="202.2" y="153.7" textLength="27.3" lengthAdjust="spacingAndGlyphs">295</text>
<text x="261.3" y="153.7" textLength="27.3" lengthAdjust="spacingAndGlyphs">290</text>
<text x="320.5" y="153.7" textLength="27.3" lengthAdjust="spacingAndGlyphs">285</text>
<text x="379.7" y="153.7" textLength="27.3" lengthAdjust="spacingAndGlyphs">280</text>
<text x="438.9" y="153.7" textLength="27.3" lengthAdjust="spacingAndGlyphs">275</text>
</g>
<text class="b" font-size="15.6" x="247.6" y="180.4" textLength="146.3" lengthAdjust="spacingAndGlyphs">Binding Energy (eV)</text>
<text class="b" font-size="18" transform="translate(148.4,82.3) rotate(-90)" textLength="20.6" lengthAdjust="spacingAndGlyphs">c/s</text>
</svg>
</body></html>
